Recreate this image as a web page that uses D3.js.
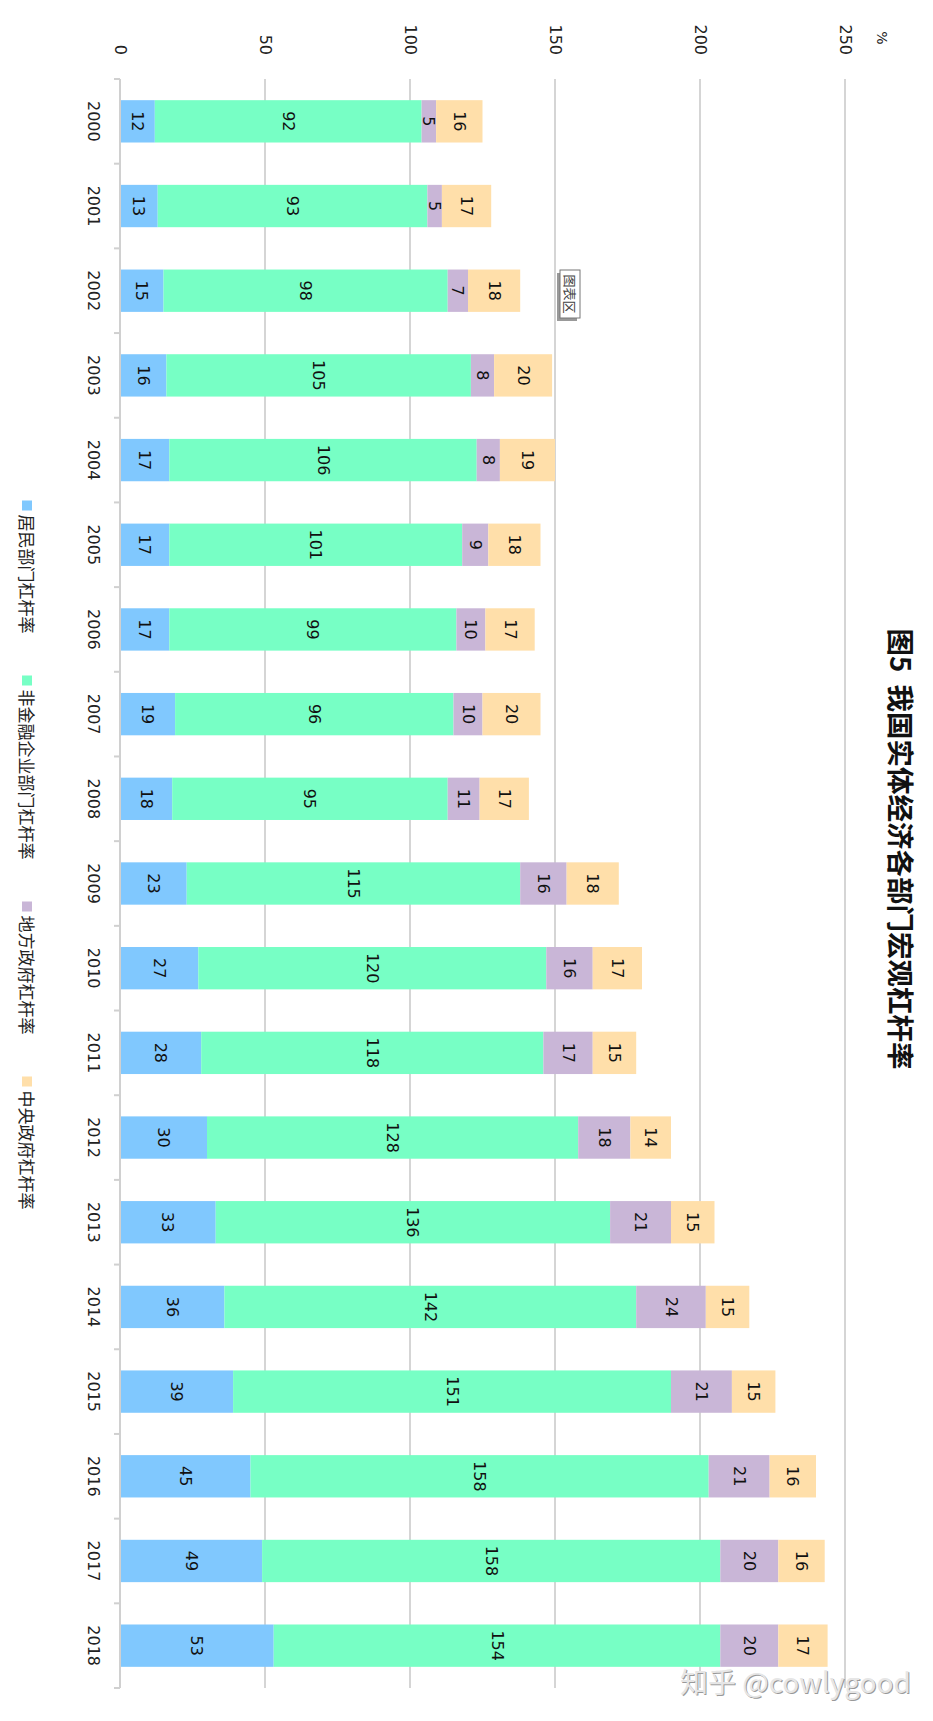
<!DOCTYPE html>
<html><head><meta charset="utf-8">
<script src="https://cdn.jsdelivr.net/npm/d3@7"></script>
<style>body{margin:0;background:#fff}svg{display:block}</style>
</head><body>
<script>
const years = ["2000","2001","2002","2003","2004","2005","2006","2007","2008","2009","2010","2011","2012","2013","2014","2015","2016","2017","2018"];
const seriesNames = ["居民部门杠杆率","非金融企业部门杠杆率","地方政府杠杆率","中央政府杠杆率"];
const household = [12,13,15,16,17,17,17,19,18,23,27,28,30,33,36,39,45,49,53];
const corporate = [92,93,98,105,106,101,99,96,95,115,120,118,128,136,142,151,158,158,154];
const localGov  = [5,5,7,8,8,9,10,10,11,16,16,17,18,21,24,21,21,20,20];
const centralGov= [16,17,18,20,19,18,17,20,17,18,17,15,14,15,15,15,16,16,17];
const valueTicks = [0,50,100,150,200,250];
const colors = ["#80C8FE","#77FFC5","#C9B6D7","#FFDFAA"];
const title = "图5  我国实体经济各部门宏观杠杆率";
const unitLabel = "%";
const watermark = "知乎 @cowlygood";

const W = 933, H = 1721;
const svg = d3.select("body").append("svg").attr("width", W).attr("height", H);
svg.append("rect").attr("width", W).attr("height", H).attr("fill", "#fff");

// landscape frame 1721 x 933, rotated 90deg clockwise
const g = svg.append("g").attr("transform", `translate(${W},0) rotate(90)`);
const num = "DejaVu Sans, sans-serif";
const cjk = "'Noto Sans CJK SC', sans-serif";

const x = d3.scaleBand().domain(years).range([79, 1688]).paddingInner(0.5).paddingOuter(0.25);
const y = d3.scaleLinear().domain([0, 250]).range([813, 88]);

// gridlines
g.append("g").selectAll("line").data(valueTicks.slice(1)).join("line")
  .attr("x1", 79).attr("x2", 1688).attr("y1", d => y(d)).attr("y2", d => y(d))
  .attr("stroke", "#d5d5d5").attr("stroke-width", 2);

// value axis labels
g.append("g").selectAll("text").data(valueTicks).join("text")
  .attr("x", 55).attr("y", d => y(d)).attr("text-anchor", "end").attr("dominant-baseline", "central")
  .attr("font-family", num).attr("font-size", 16).attr("fill", "#222").text(d => d);
g.append("text").attr("x", 38).attr("y", 51).attr("text-anchor", "middle").attr("dominant-baseline", "central")
  .attr("font-family", num).attr("font-size", 14).attr("fill", "#222").text(unitLabel);

// stacked data
const data = years.map((yr, i) => ({year: yr, v: [household[i], corporate[i], localGov[i], centralGov[i]]}));
const segs = [];
data.forEach(d => { let acc = 0; d.v.forEach((v, k) => { segs.push({year: d.year, k, v, y0: acc, y1: acc + v}); acc += v; }); });

g.append("g").selectAll("rect").data(segs).join("rect")
  .attr("x", d => x(d.year)).attr("width", x.bandwidth())
  .attr("y", d => y(d.y1)).attr("height", d => y(d.y0) - y(d.y1))
  .attr("fill", d => colors[d.k]);

g.append("g").selectAll("text").data(segs).join("text")
  .attr("x", d => x(d.year) + x.bandwidth() / 2).attr("y", d => (y(d.y0) + y(d.y1)) / 2)
  .attr("text-anchor", "middle").attr("dominant-baseline", "central")
  .attr("font-family", num).attr("font-size", 16).attr("fill", "#111").text(d => d.v);

// category axis line and ticks
const ax = g.append("g");
ax.append("line").attr("x1", 79).attr("x2", 1688).attr("y1", y(0)).attr("y2", y(0)).attr("stroke", "#d0d0d0").attr("stroke-width", 2);
const bounds = years.map(yr => x(yr) - x.step() * 0.25).concat([1688]);
ax.selectAll("line.t").data(bounds).join("line").attr("class", "t")
  .attr("x1", d => d).attr("x2", d => d).attr("y1", y(0)).attr("y2", y(0) + 6)
  .attr("stroke", "#d0d0d0").attr("stroke-width", 2);
ax.selectAll("text").data(years).join("text")
  .attr("x", d => x(d) + x.bandwidth() / 2).attr("y", 840)
  .attr("text-anchor", "middle").attr("dominant-baseline", "central")
  .attr("font-family", num).attr("font-size", 16).attr("fill", "#222").text(d => d);

// title
g.append("text").attr("x", 849).attr("y", 31).attr("text-anchor", "middle").attr("dominant-baseline", "central")
  .attr("font-family", cjk).attr("font-size", 27.5).attr("font-weight", "bold").attr("fill", "#111")
  .style("white-space", "pre").text(title);

// legend
const lg = g.append("g");
const items = lg.selectAll("g").data(seriesNames).join("g");
items.append("rect").attr("width", 10).attr("height", 10).attr("y", 901).attr("fill", (d, i) => colors[i]);
items.append("text").attr("x", 14).attr("y", 906).attr("dominant-baseline", "central")
  .attr("font-family", cjk).attr("font-size", 17).attr("fill", "#222").text(d => d);
let off = 0; const offs = [];
items.each(function(d) { offs.push(off); off += 14 + this.querySelector("text").getComputedTextLength() + 42; });
const total = off - 42;
items.attr("transform", (d, i) => `translate(${855 - total / 2 + offs[i]},0)`);

// "图表区" tooltip
const tip = g.append("g").attr("transform", "translate(270,353)");
tip.append("rect").attr("x", 3).attr("y", 3).attr("width", 48).attr("height", 20).attr("fill", "#999");
tip.append("rect").attr("width", 48).attr("height", 20).attr("fill", "#fff").attr("stroke", "#777").attr("stroke-width", 1);
tip.append("text").attr("x", 24).attr("y", 10).attr("text-anchor", "middle").attr("dominant-baseline", "central")
  .attr("font-family", cjk).attr("font-size", 13).attr("fill", "#444").text("图表区");

// watermark (not rotated)
svg.append("text").attr("x", 680).attr("y", 1693).attr("font-family", cjk).attr("font-size", 28)
  .attr("fill", "#999").attr("transform", "translate(1,1)").text(watermark);
svg.append("text").attr("x", 680).attr("y", 1693).attr("font-family", cjk).attr("font-size", 28)
  .attr("fill", "#e6e6e6").text(watermark);
</script>
</body></html>
